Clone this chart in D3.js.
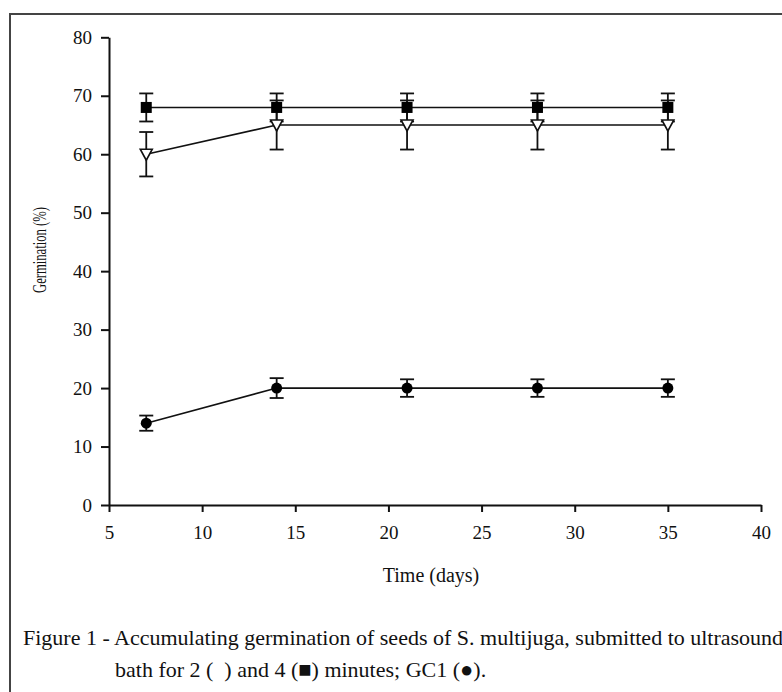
<!DOCTYPE html>
<html>
<head>
<meta charset="utf-8">
<script src="https://cdn.jsdelivr.net/npm/d3@7"></script>
<style>
  body { margin: 0; background: #fff; }
  svg { display: block; }
  .tick text { font-family: "Liberation Serif", "Times New Roman", serif; font-size: 19px; fill: #111; }
</style>
</head>
<body>
<svg id="chart" width="782" height="692"></svg>
<script>
const days = [7, 14, 21, 28, 35];
const min2 = [60, 65, 65, 65, 65];
const min2Err = [3.8, 4.2, 4.2, 4.2, 4.2];
const min4 = [68, 68, 68, 68, 68];
const min4Err = [2.4, 2.4, 2.4, 2.4, 2.4];
const gc1 = [14, 20, 20, 20, 20];
const gc1Err = [1.3, 1.7, 1.5, 1.5, 1.5];
const xTicks = [5, 10, 15, 20, 25, 30, 35, 40];
const yTicks = [0, 10, 20, 30, 40, 50, 60, 70, 80];

const svg = d3.select("#chart");

// frame (only top and left edges show, rest runs off the picture)
svg.append("path")
  .attr("d", "M10,800 V14 H800")
  .attr("fill", "none")
  .attr("stroke", "#444")
  .attr("stroke-width", 2);

const x = d3.scaleLinear().domain([5, 40]).range([109, 761]);
const y = d3.scaleLinear().domain([0, 80]).range([505, 37.3]);

const yAxis = svg.append("g")
  .attr("transform", "translate(109,0)")
  .call(d3.axisLeft(y).tickValues(yTicks).tickSize(8).tickPadding(9).tickSizeOuter(0));

const xAxis = svg.append("g")
  .attr("transform", "translate(0,505)")
  .call(d3.axisBottom(x).tickValues(xTicks).tickSize(7).tickPadding(14).tickSizeOuter(0));

[yAxis, xAxis].forEach((g) => {
  g.select(".domain").attr("stroke", "#111").attr("stroke-width", 2);
  g.selectAll(".tick line").attr("stroke", "#111").attr("stroke-width", 2);
});

// the y title is squeezed along its length in the original
svg.append("text")
  .attr("transform", "translate(46,250) rotate(-90)")
  .attr("text-anchor", "middle")
  .attr("font-family", "Liberation Serif, serif")
  .attr("font-size", 18)
  .attr("textLength", 86)
  .attr("lengthAdjust", "spacingAndGlyphs")
  .attr("fill", "#111")
  .text("Germination (%)");

svg.append("text")
  .attr("x", 431)
  .attr("y", 582)
  .attr("text-anchor", "middle")
  .attr("font-family", "Liberation Serif, serif")
  .attr("font-size", 20)
  .attr("fill", "#111")
  .text("Time (days)");

const series = [
  { name: "gc1", values: gc1, err: gc1Err },
  { name: "min2", values: min2, err: min2Err },
  { name: "min4", values: min4, err: min4Err },
];

const line = d3.line()
  .x((d) => x(d.day))
  .y((d) => y(d.v));

series.forEach((s) => {
  s.pts = days.map((day, i) => ({ day, v: s.values[i], e: s.err[i] }));
  svg.append("path")
    .datum(s.pts)
    .attr("d", line)
    .attr("fill", "none")
    .attr("stroke", "#111")
    .attr("stroke-width", 1.6);
});

series.forEach((s) => {
  const g = svg.append("g").attr("stroke", "#111").attr("stroke-width", 1.8);
  s.pts.forEach((d) => {
    g.append("line")
      .attr("x1", x(d.day)).attr("x2", x(d.day))
      .attr("y1", y(d.v + d.e)).attr("y2", y(d.v - d.e));
    [d.v + d.e, d.v - d.e].forEach((v) => {
      g.append("line")
        .attr("x1", x(d.day) - 7).attr("x2", x(d.day) + 7)
        .attr("y1", y(v)).attr("y2", y(v));
    });
  });
});

// markers
const gcPts = series[0].pts, m2Pts = series[1].pts, m4Pts = series[2].pts;

svg.append("g").selectAll("circle")
  .data(gcPts)
  .join("circle")
  .attr("cx", (d) => x(d.day))
  .attr("cy", (d) => y(d.v))
  .attr("r", 5.5)
  .attr("fill", "#000");

svg.append("g").selectAll("path")
  .data(m2Pts)
  .join("path")
  .attr("d", (d) => {
    const cx = x(d.day), cy = y(d.v);
    return `M${cx - 6},${cy - 5} L${cx + 6},${cy - 5} L${cx},${cy + 6} Z`;
  })
  .attr("fill", "#fff")
  .attr("stroke", "#111")
  .attr("stroke-width", 1.6);

svg.append("g").selectAll("rect")
  .data(m4Pts)
  .join("rect")
  .attr("x", (d) => x(d.day) - 5.5)
  .attr("y", (d) => y(d.v) - 5.5)
  .attr("width", 11)
  .attr("height", 11)
  .attr("fill", "#000");

const caption = svg.append("g")
  .attr("font-family", "Liberation Serif, serif")
  .attr("font-size", 22)
  .attr("fill", "#111");

caption.append("text")
  .attr("x", 23)
  .attr("y", 645)
  .text("Figure 1 - Accumulating germination of seeds of S. multijuga, submitted to ultrasound");

caption.append("text")
  .attr("x", 115)
  .attr("y", 677)
  .text("bath for 2 (\u00A0\u00A0) and 4 (\u25A0) minutes; GC1 (\u25CF).");
</script>
</body>
</html>
